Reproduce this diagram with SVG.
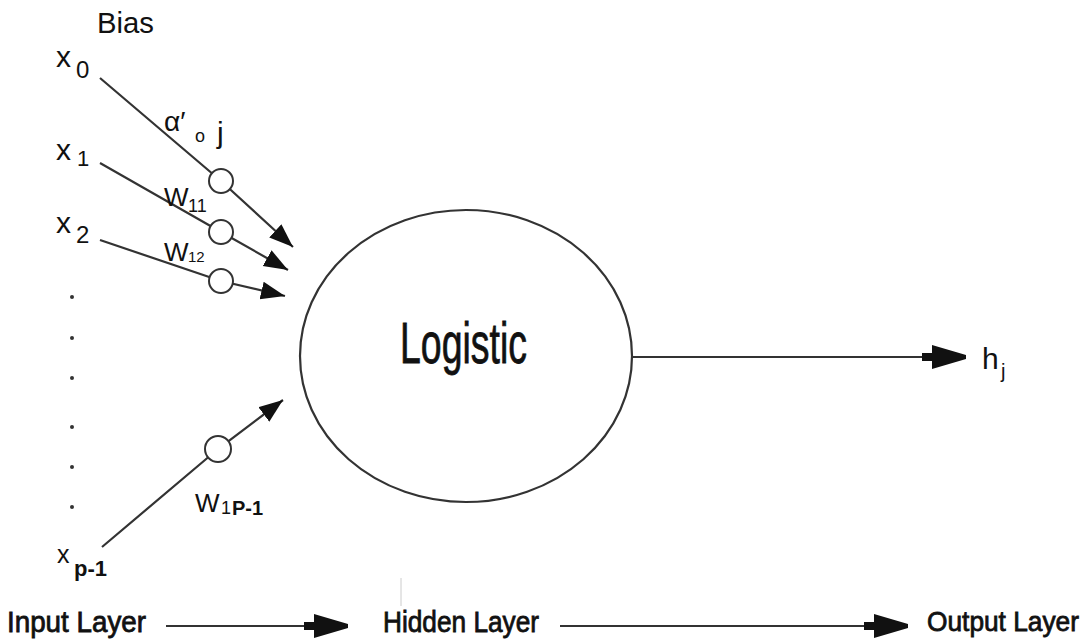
<svg xmlns="http://www.w3.org/2000/svg" width="1091" height="643" viewBox="0 0 1091 643">
<defs>
<style>
.t{font-family:"Liberation Sans",Arial,sans-serif;fill:#111}
.b{stroke:#111;stroke-width:0.8}
.ln{stroke:#333;stroke-width:2.2;fill:none}
.wc{stroke:#333;stroke-width:2;fill:#fff}
.dot{fill:#333}
</style>
<marker id="ah" markerUnits="userSpaceOnUse" markerWidth="26" markerHeight="20" refX="24" refY="9" orient="auto">
<path d="M0,0 L24,9 L0,18 z" fill="#111"/>
</marker>
<marker id="bh" markerUnits="userSpaceOnUse" markerWidth="48" markerHeight="30" refX="44" refY="14" orient="auto">
<path d="M0,10 L10,10 L10,2 L44,12 L44,16 L10,26 L10,18 L0,18 z" fill="#111"/>
</marker>
</defs>
<rect width="1091" height="643" fill="#fff"/>

<g id="connectors">
<polyline class="ln" points="100,78 221,181 293,247" marker-end="url(#ah)"/>
<polyline class="ln" points="100,163 221,232 288,270" marker-end="url(#ah)"/>
<polyline class="ln" points="100,240 221,281 285,296" marker-end="url(#ah)"/>
<polyline class="ln" points="102,547 218,449 283,400" marker-end="url(#ah)"/>
<line class="ln" x1="632" y1="357" x2="966" y2="357" marker-end="url(#bh)"/>
<line class="ln" x1="166" y1="626" x2="348" y2="626" marker-end="url(#bh)"/>
<line class="ln" x1="560" y1="626" x2="908" y2="626" marker-end="url(#bh)"/>
</g>

<g id="weights">
<circle class="wc" cx="221" cy="181" r="12"/>
<circle class="wc" cx="221" cy="232" r="12"/>
<circle class="wc" cx="221" cy="281" r="12"/>
<circle class="wc" cx="218" cy="449" r="13"/>
</g>

<g id="logistic">
<ellipse cx="466" cy="356" rx="166" ry="146" fill="#fff" stroke="#333" stroke-width="2.2"/>
<text class="t b" x="400" y="363" font-size="58" textLength="127" lengthAdjust="spacingAndGlyphs">Logistic</text>
</g>

<g id="inputs">
<text class="t" x="97" y="33" font-size="30" textLength="57" lengthAdjust="spacingAndGlyphs">Bias</text>
<text class="t" x="56" y="67" font-size="30">x</text><text class="t" x="76" y="78" font-size="24">0</text>
<text class="t" x="56" y="160" font-size="30">x</text><text class="t" x="77" y="166" font-size="22">1</text>
<text class="t" x="56" y="233" font-size="30">x</text><text class="t" x="76" y="243" font-size="24">2</text>
<text class="t" x="57" y="563" font-size="25">x</text><text class="t" x="74" y="576" font-size="22" font-weight="bold">p-1</text>
<circle class="dot" cx="72" cy="297" r="2"/>
<circle class="dot" cx="72" cy="338" r="2"/>
<circle class="dot" cx="72" cy="378" r="2"/>
<circle class="dot" cx="72" cy="427" r="2"/>
<circle class="dot" cx="72" cy="467" r="2"/>
<circle class="dot" cx="72" cy="507" r="2"/>
</g>

<g id="labels">
<text class="t" x="164" y="131" font-size="28">α′</text><text class="t" x="195" y="142" font-size="18">o</text><text class="t" x="217" y="143" font-size="30">j</text>
<text class="t" x="164" y="206" font-size="26">W</text><text class="t" x="188" y="212" font-size="18">11</text>
<text class="t" x="164" y="261" font-size="26">W</text><text class="t" x="188" y="262" font-size="15">12</text>
<text class="t" x="195" y="512" font-size="26">W</text><text class="t" x="221" y="514" font-size="18">1</text><text class="t" x="232" y="515" font-size="20" font-weight="bold">P-1</text>
<text class="t" x="982" y="369" font-size="30">h</text><text class="t" x="1001" y="378" font-size="20">j</text>
</g>

<g id="layers">
<line x1="401" y1="578" x2="401" y2="606" stroke="#ccc" stroke-width="1"/>
<text class="t b" x="7" y="632" font-size="29" textLength="139" lengthAdjust="spacingAndGlyphs">Input Layer</text>
<text class="t b" x="383" y="632" font-size="29" textLength="156" lengthAdjust="spacingAndGlyphs">Hidden Layer</text>
<text class="t b" x="927" y="631" font-size="28" textLength="152" lengthAdjust="spacingAndGlyphs">Output Layer</text>
</g>
</svg>
